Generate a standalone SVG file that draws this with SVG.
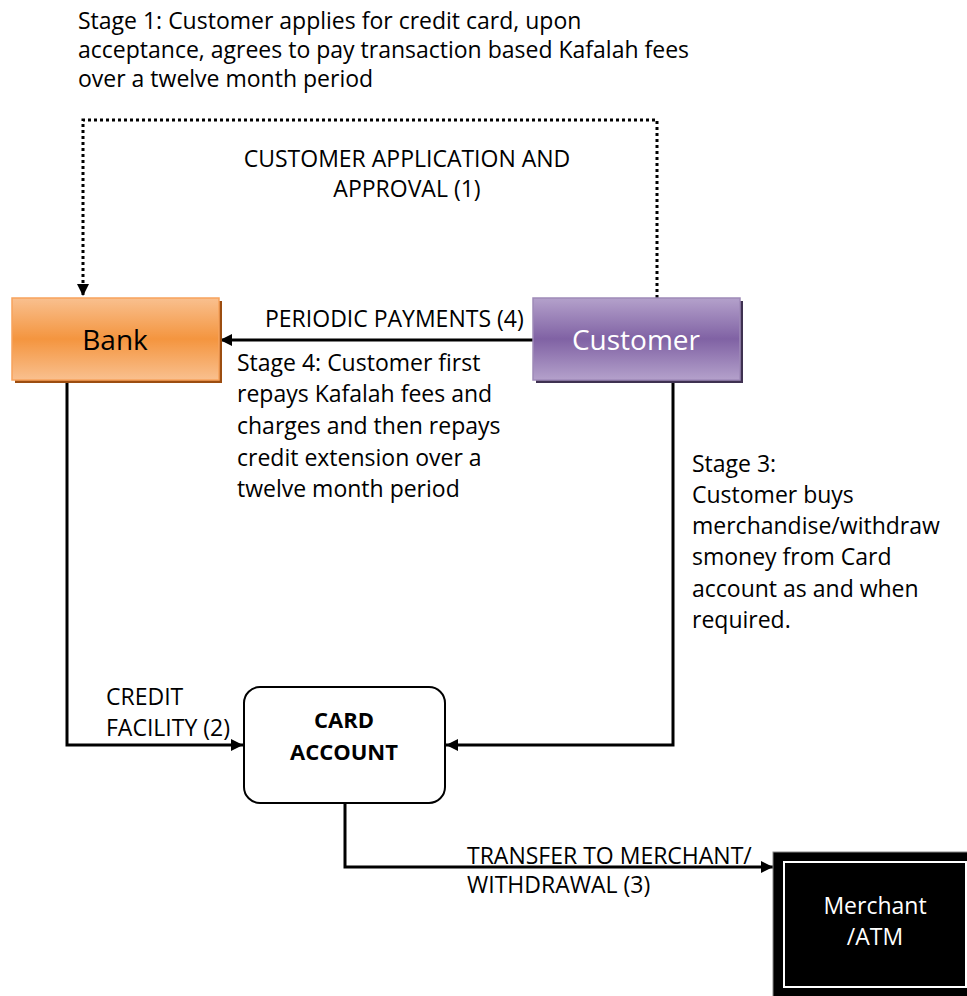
<svg xmlns="http://www.w3.org/2000/svg" width="967" height="996" viewBox="0 0 967 996">
  <defs>
    <linearGradient id="gBank" x1="0" y1="0" x2="0" y2="1">
      <stop offset="0" stop-color="#f9c08f"/>
      <stop offset="0.5" stop-color="#f4953f"/>
      <stop offset="1" stop-color="#f9c08f"/>
    </linearGradient>
    <linearGradient id="gCust" x1="0" y1="0" x2="0" y2="1">
      <stop offset="0" stop-color="#b4a1cb"/>
      <stop offset="0.5" stop-color="#8062a4"/>
      <stop offset="1" stop-color="#b4a1cb"/>
    </linearGradient>
    <marker id="arrow" viewBox="0 0 12 12" refX="12" refY="6" markerWidth="12" markerHeight="12" markerUnits="userSpaceOnUse" orient="auto">
      <path d="M0,0 L12,6 L0,12 Z" fill="#000"/>
    </marker>
    <style>
      text { font-family: "Open Sans", "Liberation Sans", sans-serif; fill: #000; }
      .t { font-size: 23px; }
      .c { text-anchor: middle; }
      .line { fill: none; stroke: #000; stroke-width: 3; }
      .dot { stroke-dasharray: 3 3; }
    </style>
  </defs>

  <!-- stage notes and connector labels -->
  <g id="labels">
    <text class="t" x="78" y="29">Stage 1: Customer applies for credit card, upon</text>
    <text class="t" x="78" y="58">acceptance, agrees to pay transaction based Kafalah fees</text>
    <text class="t" x="78" y="87">over a twelve month period</text>

    <text class="t c" x="407" y="167">CUSTOMER APPLICATION AND</text>
    <text class="t c" x="407" y="197">APPROVAL (1)</text>

    <text class="t" x="265" y="327">PERIODIC PAYMENTS (4)</text>

    <text class="t" x="237" y="371">Stage 4: Customer first</text>
    <text class="t" x="237" y="402">repays Kafalah fees and</text>
    <text class="t" x="237" y="434">charges and then repays</text>
    <text class="t" x="237" y="466">credit extension over a</text>
    <text class="t" x="237" y="497">twelve month period</text>

    <text class="t" x="692" y="472">Stage 3:</text>
    <text class="t" x="692" y="503">Customer buys</text>
    <text class="t" x="692" y="534">merchandise/withdraw</text>
    <text class="t" x="692" y="565">smoney from Card</text>
    <text class="t" x="692" y="597">account as and when</text>
    <text class="t" x="692" y="628">required.</text>

    <text class="t" x="106" y="705">CREDIT</text>
    <text class="t" x="106" y="736">FACILITY (2)</text>

    <text class="t" x="467" y="864">TRANSFER TO MERCHANT/</text>
    <text class="t" x="467" y="893">WITHDRAWAL (3)</text>
  </g>

  <!-- connectors -->
  <g id="connectors">
    <path class="line dot" d="M657,298 V120 H83 V296" marker-end="url(#arrow)"/>
    <path class="line" d="M533,340 H220" marker-end="url(#arrow)"/>
    <path class="line" d="M67,381 V745 H243" marker-end="url(#arrow)"/>
    <path class="line" d="M673,381 V745 H446" marker-end="url(#arrow)"/>
    <path class="line" d="M345,804 V867 H773" marker-end="url(#arrow)"/>
  </g>

  <g id="bank">
    <rect x="15" y="301" width="207" height="82" fill="#9c4d10"/>
    <rect x="12" y="298" width="207" height="82" fill="url(#gBank)" stroke="#f7a35c" stroke-width="1.5"/>
    <text class="c" x="115" y="350" font-size="28">Bank</text>
  </g>

  <g id="customer">
    <rect x="536" y="301" width="207" height="82" fill="#3f3151"/>
    <rect x="533" y="298" width="207" height="82" fill="url(#gCust)" stroke="#9f8ab8" stroke-width="1.5"/>
    <text class="c" x="636" y="350" font-size="28" style="fill:#fff">Customer</text>
  </g>

  <g id="card-account">
    <rect x="244" y="687" width="201" height="116" rx="16" ry="16" fill="#fff" stroke="#000" stroke-width="2"/>
    <text class="c" x="344" y="728" font-size="22" font-weight="bold">CARD</text>
    <text class="c" x="344" y="760" font-size="22" font-weight="bold">ACCOUNT</text>
  </g>

  <g id="merchant">
    <rect x="773" y="852" width="200" height="150" fill="#000" stroke="#888" stroke-width="1"/>
    <rect x="784" y="862" width="182" height="125" fill="none" stroke="#fff" stroke-width="2"/>
    <text class="c" x="875" y="914" font-size="23" style="fill:#fff">Merchant</text>
    <text class="c" x="875" y="945" font-size="23" style="fill:#fff">/ATM</text>
  </g>
</svg>
